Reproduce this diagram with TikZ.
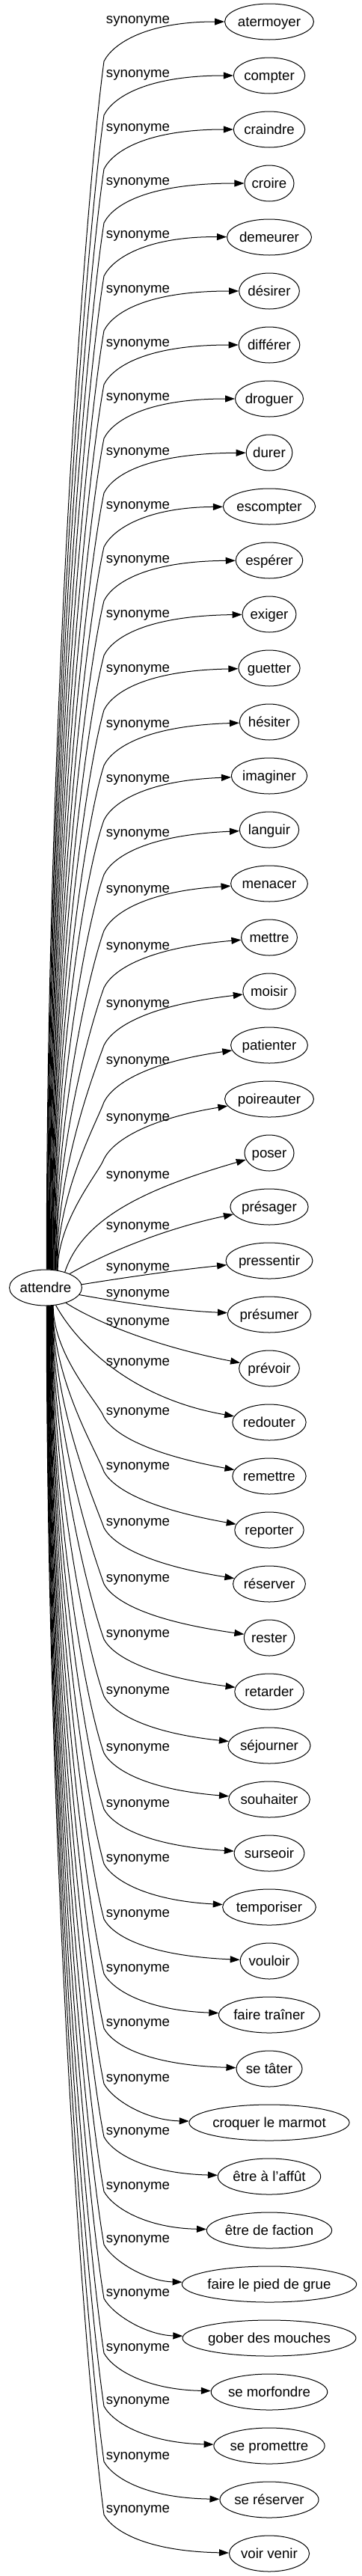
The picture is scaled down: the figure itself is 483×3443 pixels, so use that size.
\documentclass[tikz,border=0pt]{standalone}
\usepackage{fontspec}
\setmainfont{Liberation Sans}
\usetikzlibrary{arrows.meta,shapes.geometric}
\newlength\mytw
\begin{document}
\begin{tikzpicture}[x=1pt,y=-1pt,
  every node/.style={font=\fontsize{18.67}{22}\selectfont},
  tnode/.style={draw, ellipse, inner sep=0pt, minimum height=48pt, text height=18.1pt, text depth=4.7pt, line width=1pt},
  synlab/.style={anchor=base, inner sep=0pt},
  synedge/.style={line width=1pt, -{Triangle[length=13pt,width=9pt]}}
]
\useasboundingbox (0,0) rectangle (483,3443);
\settowidth{\mytw}{\fontsize{18.67}{22}\selectfont attendre}
\pgfmathsetmacro\ew{1.24*\mytw+30}
\node[tnode, minimum width=\ew pt] (attendre) at (61,1721) {attendre};
\foreach \lab/\yl [count=\i from 0] in {atermoyer/26, compter/98, craindre/170, croire/242, demeurer/313, désirer/386, différer/458, droguer/530, durer/603, escompter/675, espérer/747, exiger/820, guetter/893, hésiter/967, imaginer/1040, languir/1113, menacer/1188, mettre/1264, moisir/1341, patienter/1417, poireauter/1493, poser/1570, présager/1638, pressentir/1693, présumer/1728, prévoir/1766, redouter/1820, remettre/1886, reporter/1959, réserver/2034, rester/2109, retarder/2183, séjourner/2259, souhaiter/2335, surseoir/2410, temporiser/2483, vouloir/2557, faire traîner/2630, se tâter/2703, croquer le marmot/2777, être à l'affût/2848, être de faction/2921, faire le pied de grue/2992, gober des mouches/3064, se morfondre/3137, se promettre/3208, se réserver/3282, voir venir/3353} {
  \settowidth{\mytw}{\fontsize{18.67}{22}\selectfont \lab}
  \pgfmathsetmacro\ew{1.24*\mytw+30}
  \pgfmathsetmacro\yt{29+72*\i}
  \node[tnode, minimum width=\ew pt] (t\i) at (360,\yt) {\lab};
  \node[synlab] (l\i) at (184.5,\yl+5.5) {synonyme};
  \ifnum\i<21
    \pgfmathsetmacro\dx{1+0.75*\i}
    \pgfmathsetmacro\ang{atan2(24*sqrt(1-(\dx/56)^2),\dx)}
    \pgfmathsetmacro\yq{\yl+56}
    \pgfmathsetmacro\D{1697-\yq}
    \pgfmathsetmacro\off{26*min(1,\D/600)}
    \draw[synedge] (attendre.\ang) .. controls (61+\dx,1697-0.45*\D) and (139-\off,\yq+0.12*\D) .. (139,\yq) .. controls (151,\yl+32) and (196,\yl+3) .. (t\i);
  \fi
  \ifnum\i>26
    \pgfmathsetmacro\dx{1+0.45*(47-\i)}
    \pgfmathsetmacro\ang{-atan2(24*sqrt(1-(\dx/56)^2),\dx)}
    \pgfmathsetmacro\yq{\yl+8}
    \pgfmathsetmacro\D{\yq-1745}
    \pgfmathsetmacro\off{26*min(1,\D/600)}
    \draw[synedge] (attendre.\ang) .. controls (61+\dx,1745+0.45*\D) and (139-\off,\yq-0.12*\D) .. (139,\yq) .. controls (151,\yl+30) and (196,\yl+57) .. (t\i);
  \fi
}
\draw[synedge] (attendre.39.3) .. controls (110,1630) and (190,1590) .. (t21);
\draw[synedge] (attendre.30.4) .. controls (150,1670) and (230,1640) .. (t22);
\draw[synedge] (attendre.5.8) .. controls (170,1707) and (240,1697) .. (t23);
\draw[synedge] (attendre.-12.2) .. controls (170,1742) and (240,1752) .. (t24);
\draw[synedge] (attendre.-37.9) .. controls (130,1768) and (210,1800) .. (t25);
\draw[synedge] (attendre.-60.9) .. controls (105,1800) and (180,1870) .. (t26);
\end{tikzpicture}
\end{document}
